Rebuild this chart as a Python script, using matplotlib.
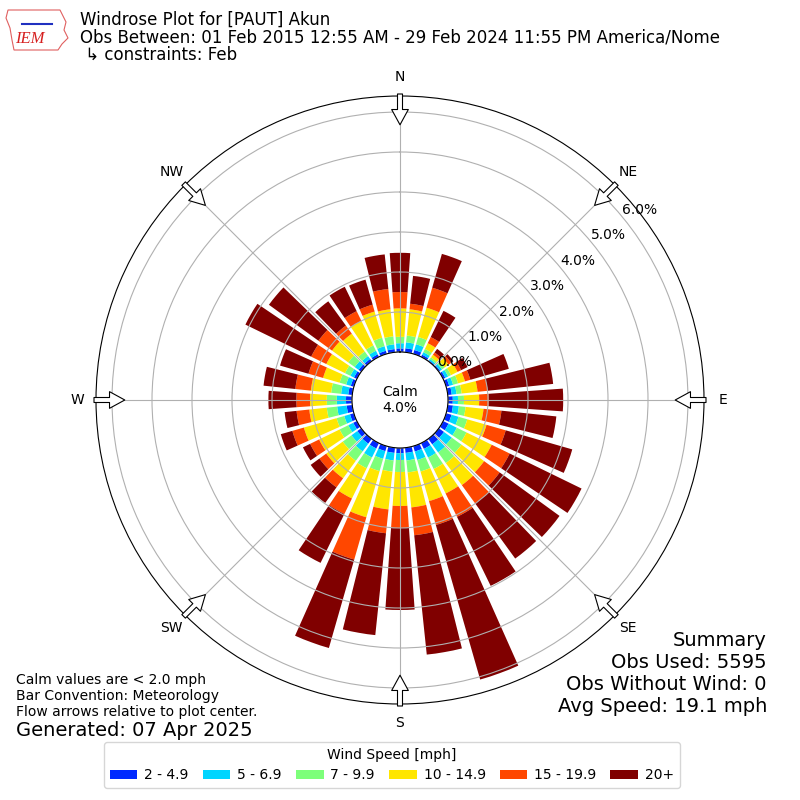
import numpy as np
import matplotlib
matplotlib.use('Agg')
import matplotlib.pyplot as plt
from matplotlib.patches import Polygon

# ----------------------------
# Data (percent of obs, per 10 degree direction bin)
# ----------------------------
directions = np.arange(0, 360, 10)
speed_labels = ['2 - 4.9', '5 - 6.9', '7 - 9.9', '10 - 14.9', '15 - 19.9', '20+']

spd_2_5 = [0.09, 0.10, 0.10, 0.06, 0.03, 0.04, 0.06, 0.08, 0.10, 0.12, 0.13, 0.14,
           0.15, 0.16, 0.17, 0.16, 0.14, 0.13, 0.13, 0.13, 0.13, 0.15, 0.15, 0.12,
           0.10, 0.10, 0.14, 0.15, 0.10, 0.08, 0.08, 0.08, 0.07, 0.07, 0.08, 0.08]
spd_5_7 = [0.13, 0.15, 0.15, 0.07, 0.04, 0.06, 0.08, 0.10, 0.12, 0.13, 0.15, 0.18,
           0.23, 0.24, 0.25, 0.24, 0.22, 0.19, 0.17, 0.19, 0.20, 0.25, 0.24, 0.18,
           0.14, 0.15, 0.24, 0.23, 0.18, 0.12, 0.10, 0.12, 0.09, 0.10, 0.12, 0.12]
spd_7_10 = [0.16, 0.17, 0.19, 0.09, 0.05, 0.08, 0.08, 0.13, 0.13, 0.15, 0.17, 0.23,
            0.27, 0.30, 0.33, 0.32, 0.30, 0.30, 0.30, 0.28, 0.32, 0.30, 0.29, 0.27,
            0.24, 0.20, 0.26, 0.25, 0.25, 0.17, 0.15, 0.20, 0.14, 0.15, 0.22, 0.20]
spd_10_15 = [0.71, 0.66, 0.76, 0.16, 0.08, 0.12, 0.18, 0.18, 0.40, 0.38, 0.45, 0.50,
             0.70, 0.70, 0.68, 0.68, 0.77, 0.88, 0.85, 0.95, 1.20, 0.84, 0.54, 0.51,
             0.57, 0.85, 0.44, 0.42, 0.51, 0.43, 0.52, 0.50, 0.55, 0.68, 0.68, 0.68]
spd_15_20 = [0.41, 0.14, 0.52, 0.17, 0.07, 0.08, 0.10, 0.14, 0.25, 0.24, 0.45, 0.50,
             0.50, 0.48, 0.57, 0.65, 0.62, 0.70, 0.55, 0.60, 1.10, 0.43, 0.28, 0.21,
             0.25, 0.30, 0.32, 0.34, 0.39, 0.38, 0.42, 0.42, 0.25, 0.27, 0.18, 0.51]
spd_20 = [0.98, 0.70, 0.88, 0.73, 0.11, 0.07, 0.18, 1.00, 1.65, 1.86, 1.38, 1.73,
          2.00, 1.85, 1.70, 1.92, 4.02, 3.00, 2.05, 2.56, 2.30, 1.36, 0.48, 0.27,
          0.20, 0.30, 0.30, 0.70, 0.80, 0.74, 1.83, 1.53, 0.75, 0.68, 0.65, 0.87]

calm_pct = 4.0
rticks = [0, 1, 2, 3, 4, 5, 6]
compass = ['N', 'NE', 'E', 'SE', 'S', 'SW', 'W', 'NW']
summary_lines = ['Summary', 'Obs Used: 5595', 'Obs Without Wind: 0', 'Avg Speed: 19.1 mph']

# ----------------------------
# Figure
# ----------------------------
fig = plt.figure(figsize=(8, 8), dpi=100)
ax = fig.add_axes([0.12, 0.12, 0.76, 0.76], projection='polar')
ax.set_theta_zero_location('N')
ax.set_theta_direction(-1)

colors = plt.cm.jet(np.linspace(0, 1, 7)[1:])
theta = np.deg2rad(directions)
width = np.deg2rad(10) * 0.8

bottom = np.zeros(len(directions))
for vals, lab, col in zip([spd_2_5, spd_5_7, spd_7_10, spd_10_15, spd_15_20, spd_20],
                          speed_labels, colors):
    vals = np.array(vals)
    ax.bar(theta, vals, width=width, bottom=bottom, color=col, label=lab,
           linewidth=0, zorder=1)
    bottom += vals

ax.set_ylim(0, 6.4)
ax.set_rorigin(-1.2)
ax.set_rticks(rticks)
ax.set_yticklabels(['%.1f%%' % t for t in rticks], fontsize=10)
ax.set_rlabel_position(50.5)
ax.set_thetagrids(np.arange(0, 360, 45), compass, fontsize=10)
ax.tick_params(axis='x', pad=3)
ax.grid(True, color='#b0b0b0', linewidth=0.8)

ax.text(0.5, 0.5, 'Calm\n%.1f%%' % calm_pct, transform=ax.transAxes,
        ha='center', va='center', fontsize=10)

# flow arrows on the rim, pointing to the center
for d in np.arange(0, 360, 45):
    t = np.deg2rad(d)
    ax.annotate('', xy=(t, 5.68), xytext=(t, 6.45),
                arrowprops=dict(arrowstyle='simple,head_length=0.55,head_width=0.6,tail_width=0.18',
                                fc='white', ec='black', lw=0.8, shrinkA=0, shrinkB=0,
                                mutation_scale=20),
                annotation_clip=False, zorder=5)

# ----------------------------
# rough IEM logo
# ----------------------------
logo_x = np.array([8, 60, 62, 66, 64, 68, 62, 58, 14, 12, 10, 6, 8])
logo_y = np.array([10, 10, 14, 22, 30, 38, 44, 50, 50, 40, 28, 18, 10])
fig.add_artist(Polygon(np.column_stack([logo_x / 800, 1 - logo_y / 800]),
                       closed=True, fill=False, ec='#e06060', lw=0.8,
                       transform=fig.transFigure))
fig.add_artist(plt.Line2D([22 / 800, 52 / 800], [1 - 24 / 800, 1 - 24 / 800],
                          color='#2030c0', lw=1.5, transform=fig.transFigure))
fig.text(30 / 800, 1 - 39 / 800, 'IEM', fontsize=12, color='#d62020', style='italic',
         family='Liberation Serif', ha='center', va='center')

# ----------------------------
# Texts
# ----------------------------
fig.text(80 / 800, 1 - 20 / 800, 'Windrose Plot for [PAUT] Akun', fontsize=12, va='center')
fig.text(80 / 800, 1 - 38 / 800,
         'Obs Between: 01 Feb 2015 12:55 AM - 29 Feb 2024 11:55 PM America/Nome',
         fontsize=12, va='center')
fig.text(80 / 800, 1 - 55 / 800, ' \u21b3 constraints: Feb', fontsize=12, va='center')

fig.text(16 / 800, 1 - 680 / 800, 'Calm values are < 2.0 mph', fontsize=10, va='center')
fig.text(16 / 800, 1 - 696 / 800, 'Bar Convention: Meteorology', fontsize=10, va='center')
fig.text(16 / 800, 1 - 712 / 800, 'Flow arrows relative to plot center.', fontsize=10, va='center')
fig.text(16 / 800, 1 - 730 / 800, 'Generated: 07 Apr 2025', fontsize=14, va='center')

for i, line in enumerate(summary_lines):
    fig.text(767 / 800, 1 - (640 + 22 * i) / 800, line, fontsize=14, ha='right', va='center')

fig.legend(loc='lower center', bbox_to_anchor=(0.49, 12 / 800), ncol=6,
           title='Wind Speed [mph]', fontsize=10, title_fontsize=10,
           borderaxespad=0, handletextpad=0.5, columnspacing=1.0)

fig.savefig('out.png', dpi=100)
